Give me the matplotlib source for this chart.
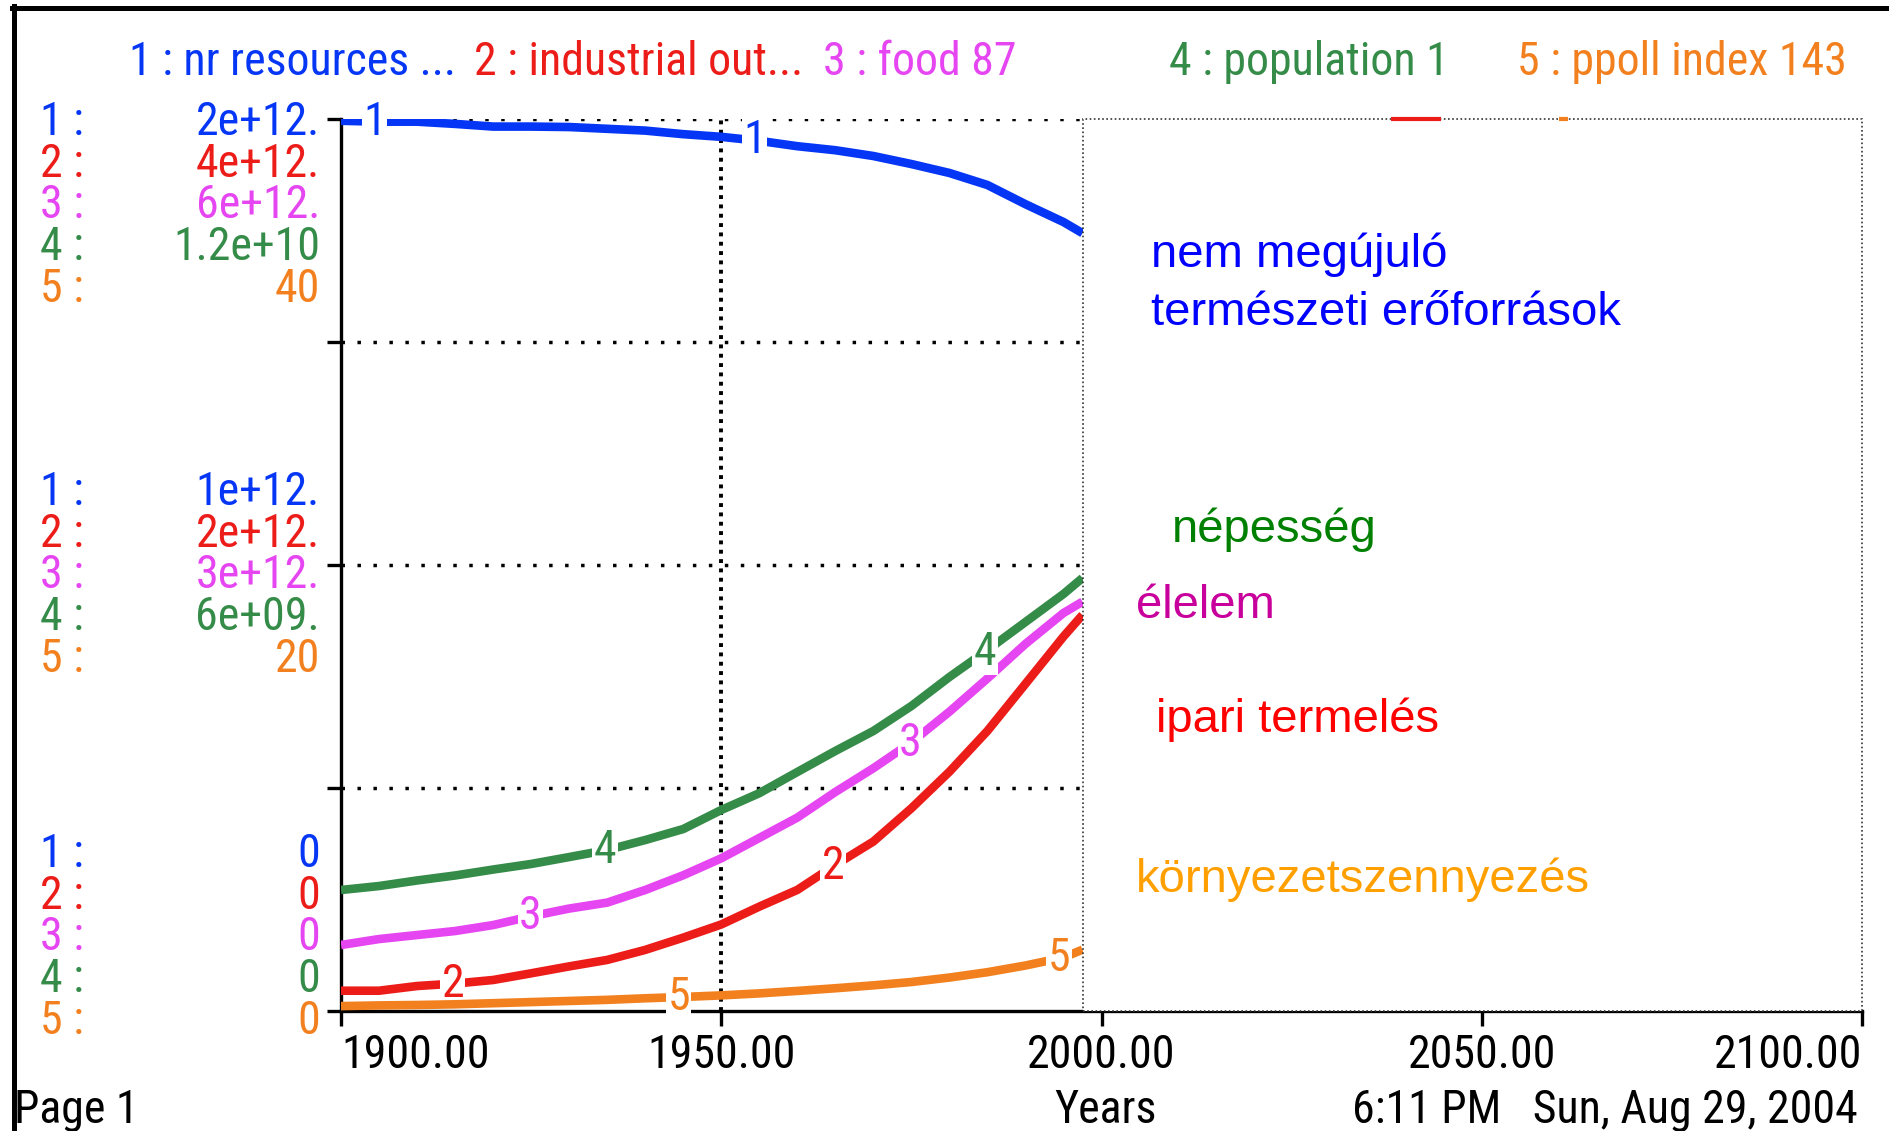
import numpy as np
import matplotlib

matplotlib.use("Agg")
import matplotlib.pyplot as plt
from matplotlib.lines import Line2D
from matplotlib.patches import Rectangle

# simulation output (1900 .. ~1997.5)
years = [1900, 1905, 1910, 1915, 1920, 1925, 1930, 1935, 1940, 1945, 1950,
         1955, 1960, 1965, 1970, 1975, 1980, 1985, 1990, 1995, 1997.5]
nr_resources_e12 = [1.996, 1.994, 1.994, 1.989, 1.983, 1.983, 1.982, 1.978, 1.974, 1.966, 1.960,
                    1.951, 1.939, 1.930, 1.917, 1.899, 1.879, 1.852, 1.809, 1.769, 1.744]
industrial_out_e12 = [0.091, 0.091, 0.112, 0.123, 0.139, 0.169, 0.200, 0.229, 0.274, 0.329, 0.388,
                      0.468, 0.543, 0.655, 0.760, 0.909, 1.073, 1.256, 1.467, 1.679, 1.776]
food_e12 = [0.444, 0.484, 0.511, 0.538, 0.578, 0.637, 0.689, 0.729, 0.814, 0.913, 1.027,
            1.164, 1.301, 1.473, 1.633, 1.807, 2.013, 2.237, 2.469, 2.677, 2.753]
population_e9 = [1.628, 1.681, 1.756, 1.823, 1.903, 1.978, 2.071, 2.166, 2.300, 2.448, 2.704,
                 2.930, 3.215, 3.498, 3.767, 4.103, 4.493, 4.856, 5.233, 5.610, 5.825]
ppoll_index = [0.22, 0.25, 0.27, 0.30, 0.35, 0.40, 0.45, 0.50, 0.57, 0.63, 0.70,
               0.79, 0.90, 1.02, 1.15, 1.30, 1.50, 1.74, 2.04, 2.40, 2.75]

# bits of two curves peeking out above the pasted text box
ind_clip_years = [2038.1, 2044.7]
poll_clip_years = [2060.2, 2061.3]

scale_max = [2e12, 4e12, 6e12, 1.2e10, 40]
scale_mid = ["1e+12.", "2e+12.", "3e+12.", "6e+09.", "20"]
scale_top = ["2e+12.", "4e+12.", "6e+12.", "1.2e+10", "40"]
legend_names = ["1 : nr resources ...", "2 : industrial out...", "3 : food 87",
                "4 : population 1", "5 : ppoll index 143"]
label_years = [1904.4, 1914.7, 1924.9, 1934.7, 1944.4]
tick_years = [1900, 1950, 2000, 2050, 2100]
tick_labels = ["1900.00", "1950.00", "2000.00", "2050.00", "2100.00"]

notes = ["nem megújuló", "természeti erőforrások", "népesség", "élelem",
         "ipari termelés", "környezetszennyezés"]

COLORS = ["#0536f5", "#ec1c19", "#e645f2", "#358b48", "#f2801f"]
NOTE_COLORS = ["#0000ff", "#0000ff", "#008000", "#c8009c", "#ff0000", "#ffa000"]
PIX = ["Roboto Condensed", "PT Sans Narrow", "DejaVu Sans"]
ARIAL = ["Liberation Sans", "DejaVu Sans"]
PIX_SIZE = 33

W, H = 1890, 1131


def fx(px):
    return px / W


def fy(py):
    return 1 - py / H


def main():
    fig = plt.figure(figsize=(18.9, 11.31), dpi=100)
    left, right, top, bottom = 341, 1862, 119, 1011
    ax = fig.add_axes([fx(left), fy(bottom), fx(right - left), (bottom - top) / H])
    ax.set_xlim(1900, 2100)
    ax.set_ylim(0, 1)
    for s in ["top", "right"]:
        ax.spines[s].set_visible(False)
    for s in ["left", "bottom"]:
        ax.spines[s].set_linewidth(2.4)
    ax.set_xticks(tick_years)
    ax.set_xticklabels(tick_labels, fontfamily=PIX, fontsize=PIX_SIZE)
    ax.set_yticks([0, 0.25, 0.5, 0.75, 1.0])
    ax.set_yticklabels([])
    ax.tick_params(axis="x", length=11, width=2.4, pad=5)
    ax.tick_params(axis="y", length=10, width=2.4)
    xl = ax.get_xticklabels()
    xl[0].set_ha("left")
    xl[-1].set_ha("right")

    for y in [0.25, 0.5, 0.75, 1.0]:
        ax.axhline(y, color="black", lw=2.5, dashes=(1, 3.6), dash_capstyle="butt")
    for x in [1950, 2000, 2050]:
        ax.axvline(x, color="black", lw=2.8, dashes=(1, 1.4), dash_capstyle="butt")

    series = [nr_resources_e12, industrial_out_e12, food_e12, population_e9, ppoll_index]
    units = [1e12, 1e12, 1e12, 1e9, 1]
    for i, (vals, unit) in enumerate(zip(series, units)):
        tw = ax.twinx()
        tw.set_ylim(0, scale_max[i])
        tw.axis("off")
        v = np.array(vals) * unit
        tw.plot(years, v, color=COLORS[i], lw=6.2, solid_capstyle="butt")
        for ly in (label_years[i], label_years[i] + 50):
            tw.text(ly, np.interp(ly, years, v), str(i + 1), color=COLORS[i],
                    fontfamily=PIX, fontsize=PIX_SIZE, ha="center", va="center",
                    bbox=dict(facecolor="white", edgecolor="none", pad=1.0))

    over = ax.twinx()
    over.set_ylim(0, 1)
    over.axis("off")
    over.add_patch(Rectangle((1997.6, 0), 2100 - 1997.6, 1, facecolor="white",
                             edgecolor="#333333", lw=1.2, ls=(0, (1, 1.5)), clip_on=False))
    over.plot(ind_clip_years, [1, 1], color=COLORS[1], lw=3, solid_capstyle="butt", clip_on=False)
    over.plot(poll_clip_years, [1, 1], color=COLORS[4], lw=3, solid_capstyle="butt", clip_on=False)

    # legend row
    for name, x0, c in zip(legend_names, [129, 474, 823, 1169, 1517], COLORS):
        fig.text(fx(x0), fy(75), name, color=c, fontfamily=PIX, fontsize=PIX_SIZE, va="baseline")

    # stacked scale labels on the left
    for block, base in [(scale_top, 135), (scale_mid, 505), (["0"] * 5, 867)]:
        for i in range(5):
            yb = base + i * 41.7
            fig.text(fx(40), fy(yb), f"{i + 1} :", color=COLORS[i], fontfamily=PIX,
                     fontsize=PIX_SIZE, va="baseline")
            fig.text(fx(320), fy(yb), block[i], color=COLORS[i], fontfamily=PIX,
                     fontsize=PIX_SIZE, va="baseline", ha="right")

    # Hungarian notes in the box
    note_pos = [(1151, 267), (1151, 325), (1172, 542), (1136, 618), (1156, 732), (1136, 892)]
    for t, (x0, yb), c in zip(notes, note_pos, NOTE_COLORS):
        fig.text(fx(x0), fy(yb), t, color=c, fontfamily=ARIAL, fontsize=34, va="baseline")

    # footer
    fig.text(fx(14), fy(1123), "Page 1", fontfamily=PIX, fontsize=PIX_SIZE, va="baseline")
    fig.text(fx(1054), fy(1123), "Years", fontfamily=PIX, fontsize=PIX_SIZE, va="baseline")
    fig.text(fx(1352), fy(1123), "6:11 PM   Sun, Aug 29, 2004", fontfamily=PIX,
             fontsize=PIX_SIZE, va="baseline")

    # window frame
    fig.add_artist(Line2D([fx(14), fx(14)], [0, fy(6)], color="black", lw=3.6))
    fig.add_artist(Line2D([fx(12), 1], [fy(8), fy(8)], color="black", lw=3.6))

    fig.savefig("out.png", dpi=100)


if __name__ == "__main__":
    main()
